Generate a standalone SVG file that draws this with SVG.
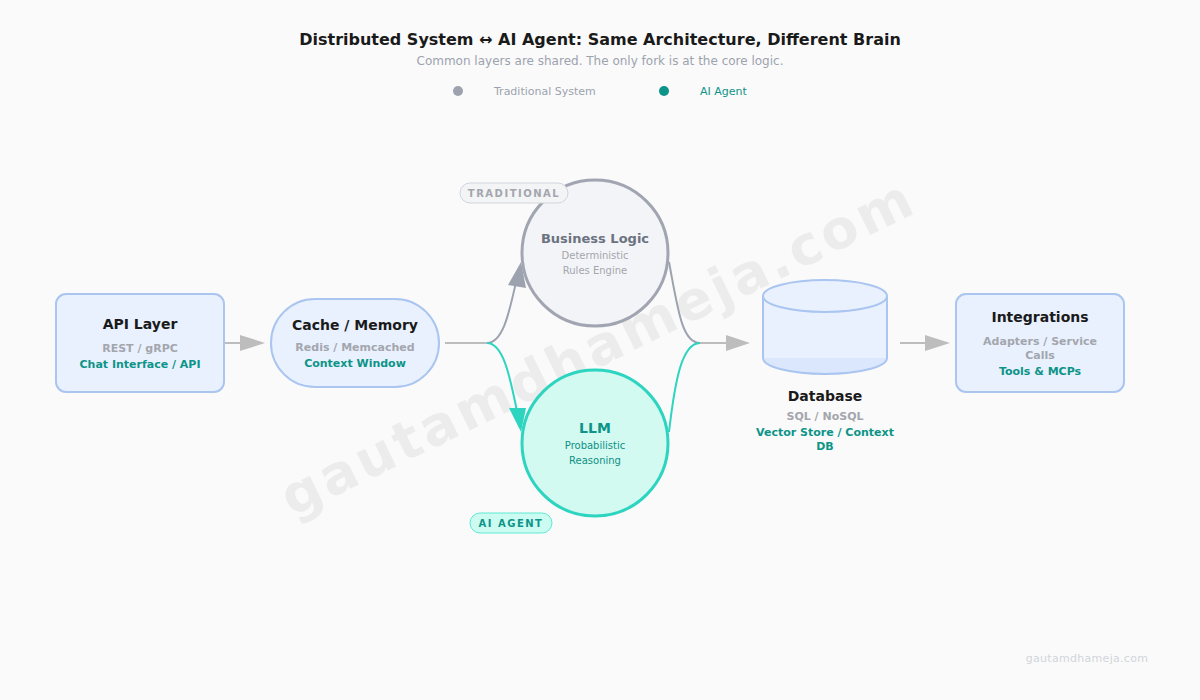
<svg xmlns="http://www.w3.org/2000/svg" width="1200" height="700" viewBox="0 0 1200 700">
<defs>
<style>
text{font-family:"DejaVu Sans","Noto Sans",sans-serif;text-anchor:middle}
.title{font-size:16px;font-weight:bold;fill:#1a1a1a}
.sub{font-size:12px;fill:#9ca3af}
.leg{font-size:11px;text-anchor:start}
.nt{font-size:14px;font-weight:bold;fill:#1a1a1a}
.g{font-size:11px;font-weight:bold;fill:#a3a6ad}
.t{font-size:11px;font-weight:bold;fill:#0d9488}
.box{fill:#e9f1fe;stroke:#a9c5f0;stroke-width:2}
.conn{fill:none;stroke:#bdbdbd;stroke-width:2}
.pill{font-size:10px;font-weight:bold;letter-spacing:1.5px}
</style>
</defs>
<rect width="1200" height="700" fill="#fafafa"/>
<text x="606" y="364" transform="rotate(-26 606 364)" font-size="54" font-weight="bold" fill="#000" opacity="0.05" letter-spacing="3.5">gautamdhameja.com</text>
<g id="header">
<text class="title" x="600" y="45">Distributed System ↔ AI Agent: Same Architecture, Different Brain</text>
<text class="sub" x="600" y="65">Common layers are shared. The only fork is at the core logic.</text>
<circle cx="458" cy="91" r="5" fill="#9ca3af"/>
<text class="leg" x="494" y="95" fill="#9ca3af">Traditional System</text>
<circle cx="664" cy="91" r="5" fill="#0d9488"/>
<text class="leg" x="700" y="95" fill="#0d9488">AI Agent</text>
</g>
<g id="connectors">
<path class="conn" d="M225,343H245"/>
<path d="M240,335L265,343L240,351z" fill="#bdbdbd"/>
<path class="conn" d="M445,343H487"/>
<path d="M487,343C506,343 511,300 519,270" fill="none" stroke="#9ca3af" stroke-width="2"/>
<path d="M508,285L521,262L526,288z" fill="#9ca3af"/>
<path d="M487,343C506,343 512,390 519,420" fill="none" stroke="#2dd4bf" stroke-width="2"/>
<path d="M509,408L526,408L521,432z" fill="#2dd4bf"/>
<path d="M669,262C678,310 682,343 700,343" fill="none" stroke="#9ca3af" stroke-width="2"/>
<path d="M669,432C675,380 682,343 700,343" fill="none" stroke="#2dd4bf" stroke-width="2"/>
<path class="conn" d="M700,343H730"/>
<path d="M726,335L750,343L726,351z" fill="#bdbdbd"/>
<path class="conn" d="M900,343H930"/>
<path d="M925,335L950,343L925,351z" fill="#bdbdbd"/>
</g>
<g id="api">
<rect class="box" x="56" y="294" width="168" height="98" rx="10"/>
<text class="nt" x="140" y="329">API Layer</text>
<text class="g" x="140" y="352">REST / gRPC</text>
<text class="t" x="140" y="368">Chat Interface / API</text>
</g>
<g id="cache">
<rect class="box" x="271" y="299" width="168" height="88" rx="44"/>
<text class="nt" x="355" y="330">Cache / Memory</text>
<text class="g" x="355" y="351">Redis / Memcached</text>
<text class="t" x="355" y="367">Context Window</text>
</g>
<g id="business">
<circle cx="595" cy="253" r="73" fill="#f3f4f7" stroke="#a0a5b1" stroke-width="3"/>
<text x="595" y="243" font-size="13" font-weight="bold" fill="#6b7280">Business Logic</text>
<text x="595" y="259" font-size="10" fill="#a3a6ad">Deterministic</text>
<text x="595" y="274" font-size="10" fill="#a3a6ad">Rules Engine</text>
<rect x="460" y="183" width="108" height="20" rx="10" fill="#f3f4f6" stroke="#d1d5db"/>
<text class="pill" x="514" y="197" fill="#a3a6ad">TRADITIONAL</text>
</g>
<g id="llm">
<circle cx="595" cy="443" r="73" fill="#d2faf1" stroke="#2dd4bf" stroke-width="3"/>
<text x="595" y="433" font-size="14" font-weight="bold" fill="#0d9488">LLM</text>
<text x="595" y="449" font-size="10" fill="#0f8f84">Probabilistic</text>
<text x="595" y="464" font-size="10" fill="#0f8f84">Reasoning</text>
<rect x="470" y="513" width="82" height="20" rx="10" fill="#ccfbf1" stroke="#5eead4"/>
<text class="pill" x="511" y="527" fill="#0d9488">AI AGENT</text>
</g>
<g id="database">
<path d="M763,296V358A62,16 0 0 0 887,358V296z" fill="#e9f1fe"/>
<path d="M763,358A62,16 0 0 0 887,358z" fill="#dbe7fc"/>
<path d="M763,296V358A62,16 0 0 0 887,358V296" fill="none" stroke="#a9c5f0" stroke-width="2"/>
<ellipse cx="825" cy="296" rx="62" ry="16" fill="#e9f1fe" stroke="#a9c5f0" stroke-width="2"/>
<text class="nt" x="825" y="401">Database</text>
<text class="g" x="825" y="420">SQL / NoSQL</text>
<text class="t" x="825" y="436">Vector Store / Context</text>
<text class="t" x="825" y="450">DB</text>
</g>
<g id="integrations">
<rect class="box" x="956" y="294" width="168" height="98" rx="10"/>
<text class="nt" x="1040" y="322">Integrations</text>
<text class="g" x="1040" y="345">Adapters / Service</text>
<text class="g" x="1040" y="359">Calls</text>
<text class="t" x="1040" y="375">Tools &amp; MCPs</text>
</g>
<text x="1087" y="662" font-size="11" fill="#d1d5db" letter-spacing="0.3">gautamdhameja.com</text>
</svg>
